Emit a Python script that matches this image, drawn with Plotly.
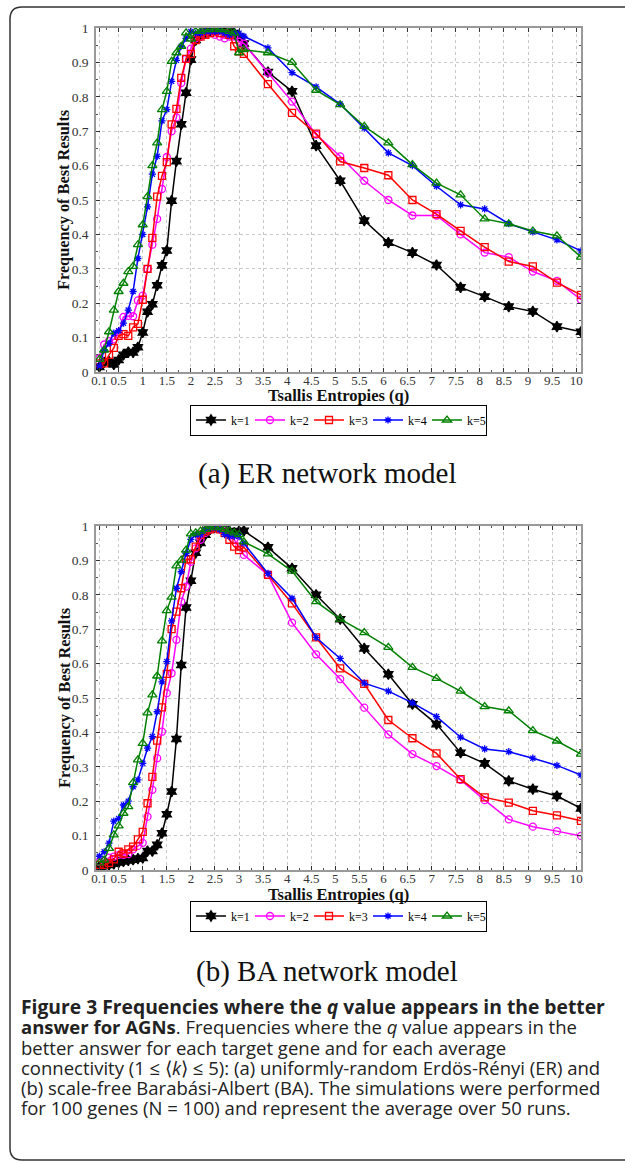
import plotly.graph_objects as go

W, H = 625, 1163

# q values (x axis)
q = [0.1, 0.2, 0.3, 0.4, 0.5, 0.6, 0.7, 0.8, 0.9, 1.0,
     1.1, 1.2, 1.3, 1.4, 1.5, 1.6, 1.7, 1.8, 1.9, 2.0,
     2.1, 2.2, 2.3, 2.4, 2.5, 2.6, 2.7, 2.8, 2.9, 3.0,
     3.1, 3.6, 4.1, 4.6, 5.1, 5.6, 6.1, 6.6, 7.1, 7.6, 8.1, 8.6, 9.1, 9.6, 10.1]

labels = ["k=1", "k=2", "k=3", "k=4", "k=5"]

# (a) ER network model
er_k1 = [0.015, 0.028, 0.03, 0.022, 0.035, 0.05, 0.058, 0.057, 0.072, 0.115,
         0.175, 0.197, 0.252, 0.31, 0.353, 0.498, 0.613, 0.72, 0.812, 0.908,
         0.965, 0.98, 0.985, 0.99, 0.995, 1.0, 1.0, 0.99, 0.985, 0.975,
         0.955, 0.872, 0.816, 0.658, 0.556, 0.44, 0.376, 0.347, 0.311, 0.246, 0.219, 0.19, 0.176, 0.132, 0.117]
er_k2 = [0.04, 0.08, 0.09, 0.095, 0.115, 0.16, 0.163, 0.162, 0.208, 0.222,
         0.30, 0.37, 0.445, 0.532, 0.625, 0.70, 0.74, 0.84, 0.91, 0.94,
         0.97, 0.975, 0.98, 0.985, 0.98, 0.975, 0.97, 0.975, 0.975, 0.96,
         0.955, 0.87, 0.786, 0.69, 0.627, 0.556, 0.50, 0.455, 0.455, 0.40, 0.347, 0.334, 0.292, 0.265, 0.21]
er_k3 = [0.025, 0.025, 0.05, 0.07, 0.105, 0.11, 0.105, 0.13, 0.14, 0.21,
         0.30, 0.39, 0.51, 0.57, 0.61, 0.72, 0.765, 0.855, 0.91, 0.925,
         0.965, 0.975, 0.98, 0.985, 0.99, 0.985, 0.985, 0.98, 0.947, 0.932,
         0.925, 0.837, 0.753, 0.693, 0.612, 0.593, 0.572, 0.50, 0.459, 0.41, 0.363, 0.321, 0.307, 0.26, 0.224]
er_k4 = [0.017, 0.064, 0.083, 0.113, 0.12, 0.142, 0.18, 0.234, 0.33, 0.40,
         0.48, 0.575, 0.627, 0.73, 0.763, 0.845, 0.906, 0.947, 0.97, 0.99,
         0.985, 0.985, 0.99, 0.99, 0.99, 0.99, 0.985, 0.98, 0.985, 0.985,
         0.976, 0.942, 0.87, 0.829, 0.779, 0.709, 0.637, 0.60, 0.54, 0.486, 0.474, 0.431, 0.407, 0.384, 0.352]
er_k5 = [0.037, 0.064, 0.117, 0.18, 0.234, 0.258, 0.292, 0.307, 0.37, 0.428,
         0.51, 0.60, 0.666, 0.763, 0.816, 0.903, 0.928, 0.947, 0.986, 0.968,
         0.99, 0.99, 0.995, 0.995, 1.0, 0.995, 0.995, 0.99, 0.985, 0.928,
         0.937, 0.928, 0.90, 0.819, 0.777, 0.714, 0.666, 0.603, 0.549, 0.515, 0.445, 0.431, 0.41, 0.396, 0.334]

# (b) BA network model
ba_k1 = [0.01, 0.012, 0.015, 0.018, 0.022, 0.025, 0.028, 0.03, 0.033, 0.035,
         0.055, 0.055, 0.073, 0.107, 0.162, 0.228, 0.381, 0.596, 0.763, 0.841,
         0.922, 0.951, 0.975, 0.99, 1.0, 0.995, 0.99, 0.985, 0.98, 0.985,
         0.986, 0.938, 0.877, 0.80, 0.729, 0.644, 0.569, 0.482, 0.424, 0.341, 0.31, 0.259, 0.235, 0.215, 0.179]
ba_k2 = [0.024, 0.026, 0.036, 0.039, 0.044, 0.044, 0.046, 0.06, 0.07, 0.079,
         0.155, 0.233, 0.325, 0.402, 0.514, 0.572, 0.669, 0.78, 0.824, 0.896,
         0.935, 0.96, 0.98, 0.99, 0.995, 0.99, 0.985, 0.975, 0.96, 0.94,
         0.916, 0.858, 0.719, 0.627, 0.555, 0.472, 0.394, 0.337, 0.302, 0.262, 0.203, 0.147, 0.126, 0.113, 0.099]
ba_k3 = [0.015, 0.015, 0.021, 0.031, 0.053, 0.048, 0.06, 0.068, 0.089, 0.111,
         0.194, 0.271, 0.376, 0.473, 0.57, 0.70, 0.751, 0.819, 0.903, 0.903,
         0.94, 0.975, 0.985, 0.99, 0.995, 0.99, 0.98, 0.96, 0.94, 0.93,
         0.938, 0.858, 0.775, 0.676, 0.586, 0.541, 0.436, 0.383, 0.339, 0.264, 0.211, 0.196, 0.172, 0.159, 0.143]
ba_k4 = [0.04, 0.053, 0.078, 0.142, 0.15, 0.189, 0.20, 0.242, 0.262, 0.31,
         0.354, 0.388, 0.46, 0.547, 0.606, 0.724, 0.819, 0.867, 0.92, 0.961,
         0.974, 0.975, 0.99, 0.995, 0.995, 0.99, 0.975, 0.97, 0.97, 0.97,
         0.95, 0.862, 0.79, 0.676, 0.615, 0.543, 0.52, 0.486, 0.446, 0.386, 0.352, 0.344, 0.325, 0.304, 0.276]
ba_k5 = [0.021, 0.029, 0.063, 0.102, 0.128, 0.165, 0.184, 0.254, 0.32, 0.368,
         0.457, 0.509, 0.564, 0.666, 0.754, 0.793, 0.884, 0.901, 0.93, 0.977,
         0.98, 0.985, 0.99, 1.0, 0.995, 0.995, 0.99, 0.985, 0.98, 0.975,
         0.954, 0.919, 0.869, 0.78, 0.729, 0.69, 0.647, 0.589, 0.557, 0.52, 0.475, 0.463, 0.405, 0.375, 0.337]

x_tickvals = [0.1, 0.5, 1, 1.5, 2, 2.5, 3, 3.5, 4, 4.5, 5, 5.5, 6, 6.5, 7, 7.5, 8, 8.5, 9, 9.5, 10]
x_ticktext = ["0.1", "0.5", "1", "1.5", "2", "2.5", "3", "3.5", "4", "4.5", "5", "5.5",
              "6", "6.5", "7", "7.5", "8", "8.5", "9", "9.5", "10"]
y_tickvals = [0, 0.1, 0.2, 0.3, 0.4, 0.5, 0.6, 0.7, 0.8, 0.9, 1]
y_ticktext = ["0", "0.1", "0.2", "0.3", "0.4", "0.5", "0.6", "0.7", "0.8", "0.9", "1"]

colors = ["#000000", "#ff00ff", "#ff0000", "#0000ff", "#008000"]
symbols = ["hexagram", "circle-open", "square-open", "asterisk-open", "triangle-up-open"]
msizes = [8, 7, 7, 6, 8]

def px(x):
    return x / W

def py(y):
    return 1 - y / H

SERIF = "Liberation Serif, Times New Roman, serif"

fig = go.Figure()

panels = [
    ([er_k1, er_k2, er_k3, er_k4, er_k5], "x", "y", "legend"),
    ([ba_k1, ba_k2, ba_k3, ba_k4, ba_k5], "x2", "y2", "legend2"),
]

for series, xa, ya, lg in panels:
    for i, vals in enumerate(series):
        fig.add_trace(go.Scatter(
            x=q, y=vals, mode="lines+markers", name=labels[i],
            xaxis=xa, yaxis=ya, legend=lg,
            line=dict(color=colors[i], width=1.5),
            marker=dict(symbol=symbols[i], size=msizes[i], color=colors[i],
                        line=dict(color=colors[i], width=1.3)),
        ))

L, R = 96, 581

def xaxis_cfg(anchor):
    return dict(
        domain=[px(L), px(R)], anchor=anchor, range=[0.03, 10.1],
        tickmode="array", tickvals=x_tickvals, ticktext=x_ticktext, tickangle=0,
        ticks="inside", ticklen=4, tickcolor="#333", tickwidth=1,
        minor=dict(dtick=0.25, tick0=0, ticks="inside", ticklen=2, tickcolor="#555", showgrid=False),
        showline=True, linecolor="#999", linewidth=1.5, mirror="ticks",
        showgrid=True, gridcolor="#c8c8c8", griddash="dot", gridwidth=1,
        zeroline=False, tickfont=dict(family=SERIF, size=13, color="#333"),
        ticklabelstandoff=-4,
    )

def yaxis_cfg(anchor, top, bottom):
    return dict(
        domain=[py(bottom), py(top)], anchor=anchor, range=[0, 1],
        tickmode="array", tickvals=y_tickvals, ticktext=y_ticktext,
        ticks="inside", ticklen=4, tickcolor="#333", tickwidth=1,
        minor=dict(dtick=0.05, tick0=0, ticks="inside", ticklen=2, tickcolor="#555", showgrid=False),
        showline=True, linecolor="#999", linewidth=1.5, mirror="ticks",
        showgrid=True, gridcolor="#c8c8c8", griddash="dot", gridwidth=1,
        zeroline=False, tickfont=dict(family=SERIF, size=13.5, color="#333"),
        ticklabelstandoff=3,
    )

legend_common = dict(
    orientation="h", xanchor="center", yanchor="middle",
    bgcolor="white", bordercolor="#000", borderwidth=1,
    font=dict(family=SERIF, size=12, color="#000"),
    itemwidth=30, entrywidth=14, entrywidthmode="pixels",
    tracegroupgap=0, itemclick=False, itemdoubleclick=False,
)

fig.update_layout(
    width=W, height=H,
    margin=dict(l=0, r=0, t=0, b=0, autoexpand=False),
    paper_bgcolor="white", plot_bgcolor="white",
    xaxis=xaxis_cfg("y"), yaxis=yaxis_cfg("x", 28, 372),
    xaxis2=xaxis_cfg("y2"), yaxis2=yaxis_cfg("x2", 526, 870),
    legend=dict(x=px((L + R) / 2), y=py(420), **legend_common),
    legend2=dict(x=px((L + R) / 2), y=py(916), **legend_common),
)

anns = []
for (top, bottom), sub, ysub in [((28, 372), "(a) ER network model", 474),
                                 ((526, 870), "(b) BA network model", 971)]:
    anns.append(dict(x=px((L + R) / 2), y=py(bottom + 24), xref="paper", yref="paper",
                     text="<b>Tsallis Entropies (q)</b>", showarrow=False,
                     font=dict(family=SERIF, size=16.5, color="#111"),
                     xanchor="center", yanchor="middle"))
    anns.append(dict(x=px(64), y=py((top + bottom) / 2), xref="paper", yref="paper",
                     text="<b>Frequency of Best Results</b>", showarrow=False, textangle=-90,
                     font=dict(family=SERIF, size=16.3, color="#111"),
                     xanchor="center", yanchor="middle"))
    anns.append(dict(x=px(327), y=py(ysub), xref="paper", yref="paper",
                     text=sub, showarrow=False,
                     font=dict(family=SERIF, size=29, color="#111"),
                     xanchor="center", yanchor="middle"))

caption = [
    "<span style=\"font-size:19.3px\"><b>Figure 3 Frequencies where the <i>q</i> value appears in the better</b></span>",
    "<b>answer for AGNs</b>. Frequencies where the <i>q</i> value appears in the",
    "better answer for each target gene and for each average",
    "connectivity (1 ≤ ⟨<i>k</i>⟩ ≤ 5): (a) uniformly-random Erdös-Rényi (ER) and",
    "(b) scale-free Barabási-Albert (BA). The simulations were performed",
    "for 100 genes (N = 100) and represent the average over 50 runs.",
]
cap_text = "<br>".join(
    line if line.startswith("<span") else f"<span style=\"font-size:18.5px\">{line}</span>"
    for line in caption
)
anns.append(dict(x=px(19), y=py(991), xref="paper", yref="paper",
                 text=cap_text, showarrow=False, align="left",
                 font=dict(family="Open Sans, sans-serif", size=15.6, color="#222"),
                 xanchor="left", yanchor="top"))

fig.update_layout(annotations=anns)

# rounded frame around the figure panel
path = (f"M {px(640)},{py(7)} L {px(22)},{py(7)} Q {px(10)},{py(7)} {px(10)},{py(19)} "
        f"L {px(10)},{py(1148)} Q {px(10)},{py(1160)} {px(22)},{py(1160)} L {px(640)},{py(1160)}")
fig.add_shape(type="path", path=path, xref="paper", yref="paper",
              line=dict(color="#333", width=1.5))

fig.write_html("out.html", config={"displayModeBar": False},
               post_script="document.body.style.margin='0';document.body.style.padding='0';")
